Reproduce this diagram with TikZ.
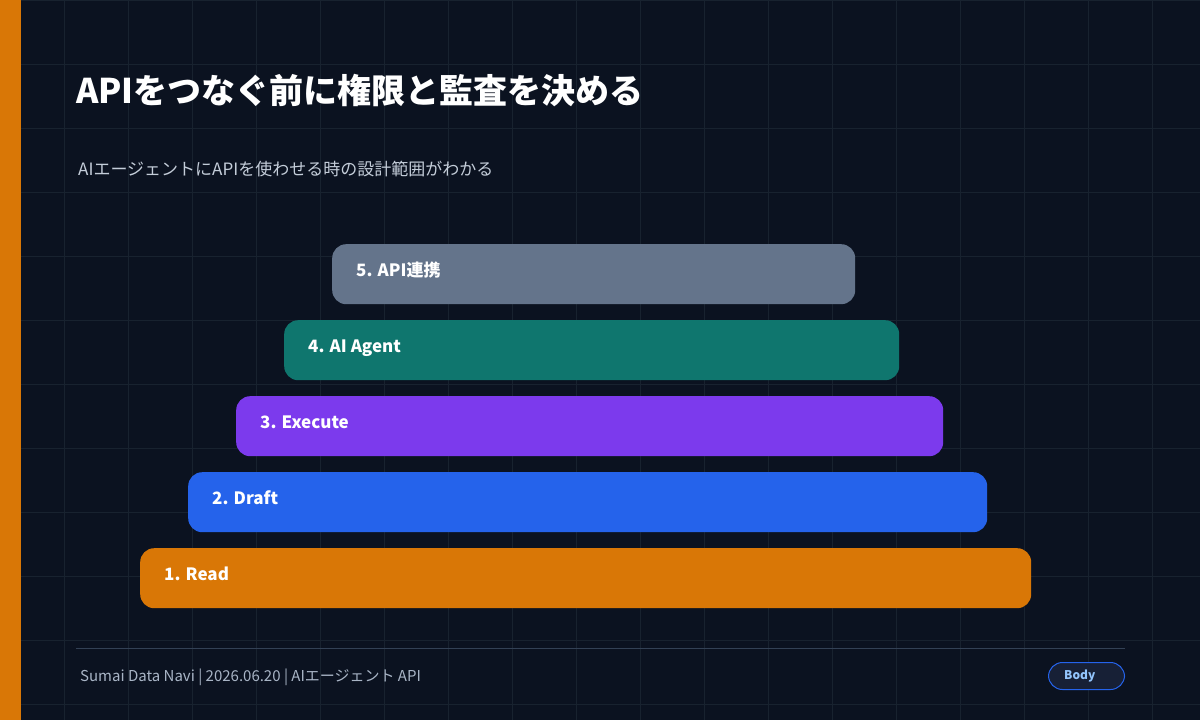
\documentclass[tikz,border=0pt]{standalone}
\usepackage{fontspec}
\setmainfont{Noto Sans CJK JP}
\usetikzlibrary{calc}
\definecolor{bg}{HTML}{0B1220}
\definecolor{gridc}{HTML}{18222F}
\definecolor{accent}{HTML}{D97706}
\definecolor{cslate}{HTML}{64748B}
\definecolor{cteal}{HTML}{0F766E}
\definecolor{cviolet}{HTML}{7C3AED}
\definecolor{cblue}{HTML}{2563EB}
\definecolor{corange}{HTML}{D97706}
\definecolor{subc}{HTML}{C4CDD9}
\definecolor{footc}{HTML}{A9B5C6}
\definecolor{rulec}{HTML}{334155}
\definecolor{badgefill}{HTML}{172036}
\definecolor{badgetext}{HTML}{93C5FD}
\tikzset{
  bar/.style={draw=none, rounded corners=14pt, minimum height=60pt, inner sep=0pt, anchor=north west},
  lbl/.style={text=white, font=\fontsize{17}{20}\selectfont\bfseries, anchor=base west, inner sep=0pt},
}
\begin{document}
\begin{tikzpicture}[x=1pt,y=-1pt]
\useasboundingbox (0,0) rectangle (1200,720);
\fill[bg] (0,0) rectangle (1200,720);
\foreach \i in {1,...,18} \draw[gridc, line width=1pt] (64*\i,0) -- (64*\i,720);
\foreach \j in {0,...,11} \draw[gridc, line width=1pt] (0,64*\j) -- (1200,64*\j);
\fill[accent] (0,0) rectangle (21,720);

\node[anchor=base west, inner sep=0pt, text=white, font=\fontsize{34}{40}\selectfont\bfseries] (title) at (76,103) {APIをつなぐ前に権限と監査を決める};
\node[anchor=base west, inner sep=0pt, text=subc, font=\fontsize{17}{20}\selectfont] (sub) at (78,175) {AIエージェントにAPIを使わせる時の設計範囲がわかる};

\node[bar, fill=cslate, minimum width=523pt] (b5) at (332,244) {};
\node[bar, fill=cteal, minimum width=615pt] (b4) at (284,320) {};
\node[bar, fill=cviolet, minimum width=707pt] (b3) at (236,396) {};
\node[bar, fill=cblue, minimum width=799pt] (b2) at (188,472) {};
\node[bar, fill=corange, minimum width=891pt] (b1) at (140,548) {};

\node[lbl] (l5) at ($(b5.north west)+(24,32)$) {5. API連携};
\node[lbl] (l4) at ($(b4.north west)+(24,32)$) {4. AI Agent};
\node[lbl] (l3) at ($(b3.north west)+(24,32)$) {3. Execute};
\node[lbl] (l2) at ($(b2.north west)+(24,32)$) {2. Draft};
\node[lbl] (l1) at ($(b1.north west)+(24,32)$) {1. Read};

\draw[rulec, line width=1pt] (76,648) -- (1125,648);
\node[anchor=base west, inner sep=0pt, text=footc, font=\fontsize{15}{18}\selectfont] (foot) at (80,681) {Sumai Data Navi | 2026.06.20 | AIエージェント API};

\draw[cblue, fill=badgefill, line width=1pt, rounded corners=14pt] (1048.5,662.5) rectangle (1124.5,689.5);
\node[anchor=base west, inner sep=0pt, text=badgetext, font=\fontsize{12}{14}\selectfont\bfseries] (badge) at (1064,679) {Body};
\end{tikzpicture}
\end{document}
